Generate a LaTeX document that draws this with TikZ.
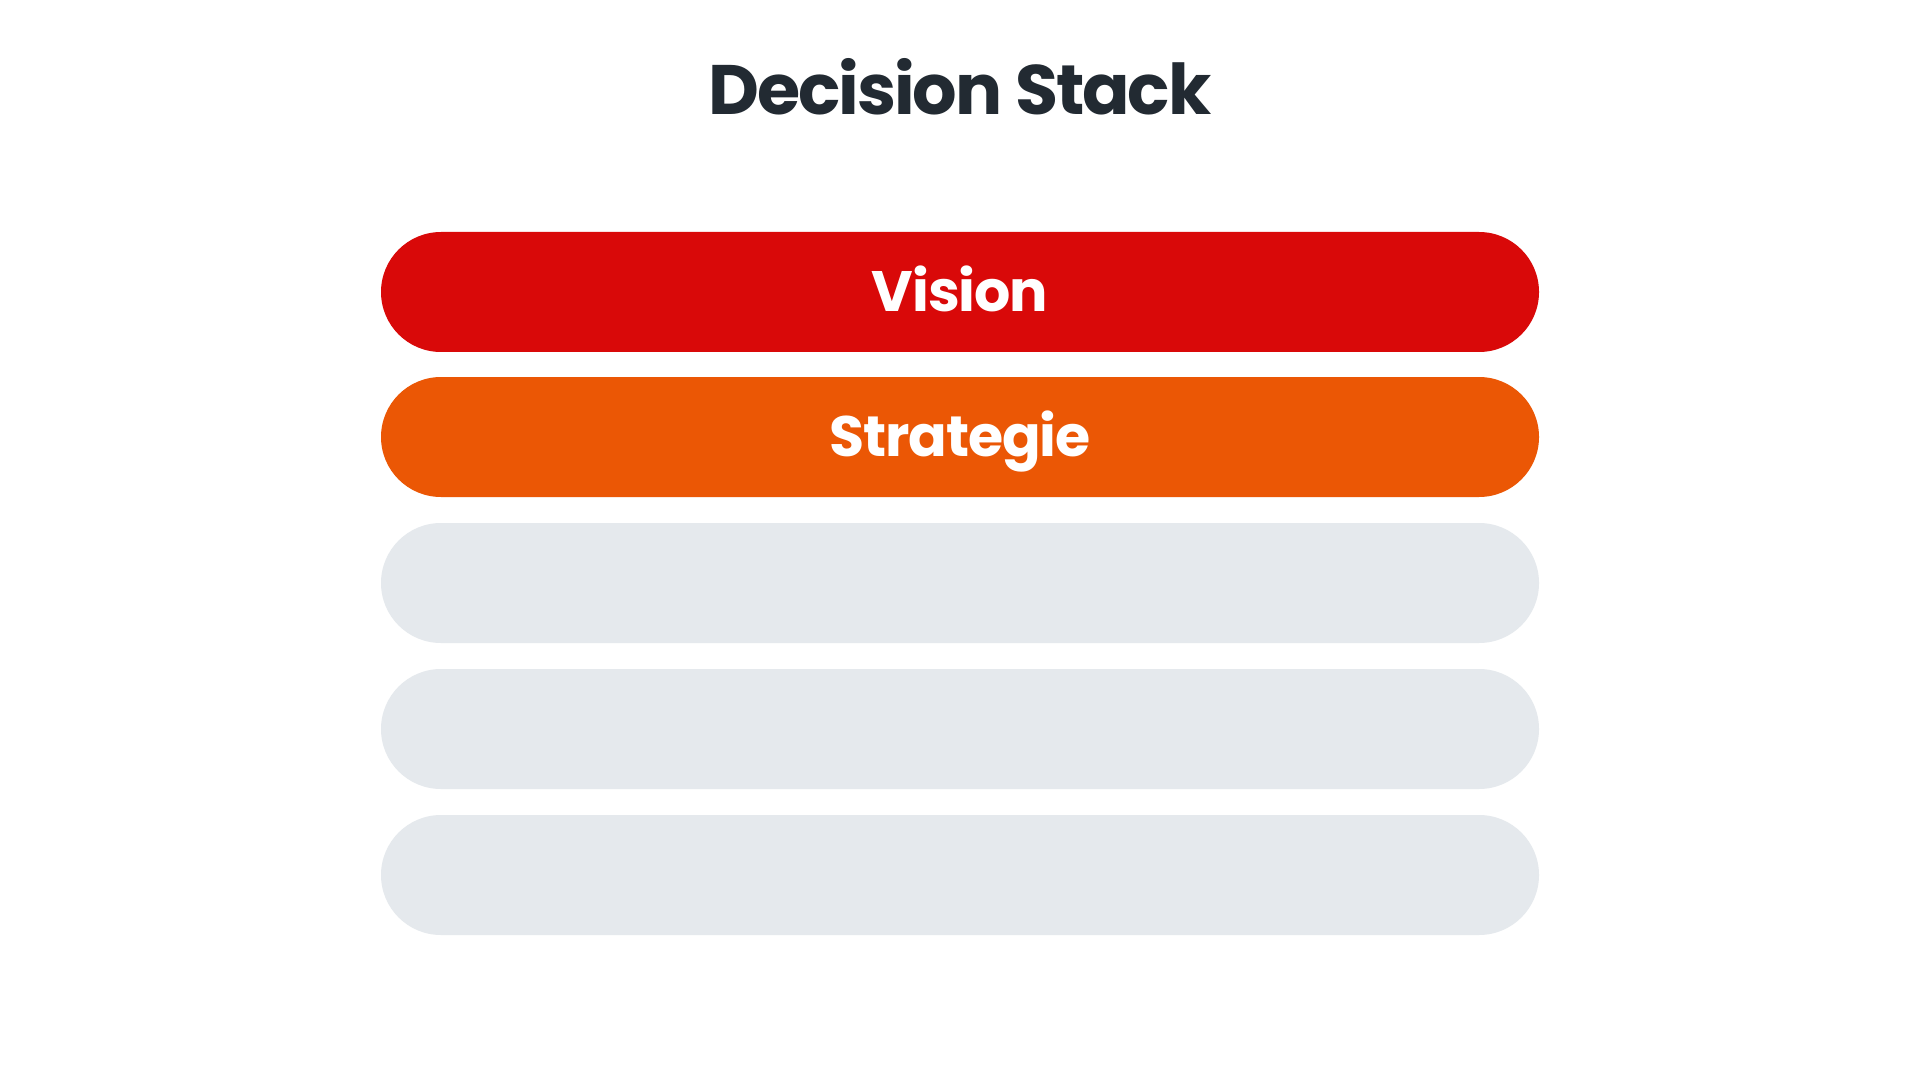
\documentclass[tikz,border=0pt]{standalone}
\usepackage{fontspec}
\setmainfont{Poppins}
\newfontfamily\titlefont{Poppins}[LetterSpace=-3]
\newfontfamily\barfont{Poppins}[LetterSpace=-2]
\usetikzlibrary{positioning}

\definecolor{titleink}{HTML}{222A32}
\definecolor{visionred}{HTML}{D90909}
\definecolor{strategyorange}{HTML}{EB5705}
\definecolor{emptygray}{HTML}{E5E9ED}

\tikzset{
  stackbar/.style={rectangle, rounded corners=30pt, inner sep=0pt,
    minimum width=579pt, minimum height=60pt,
    text=white, font=\barfont\fontsize{28.5}{34}\selectfont\bfseries,
    text height=19.9pt, text depth=0pt},
  stacktitle/.style={inner sep=0pt, anchor=base, text=titleink,
    font=\titlefont\fontsize{35}{42}\selectfont\bfseries}
}

\begin{document}
\begin{tikzpicture}[x=0.5pt,y=0.5pt,yscale=-1,xscale=1]
            % page 1920 x 1080
            \useasboundingbox [fill=white] (0,0) rectangle (1920,1080);

            % Title
            \node [stacktitle] (title) at (960,115) {Decision Stack};

            % Stack layers
            \node [stackbar, fill=visionred] (vision) at (960,292) {Vision};
            \node [stackbar, fill=strategyorange] (strategie) at (960,437) {Strategie};
            \node [stackbar, fill=emptygray] (layerc) at (960,583) {};
            \node [stackbar, fill=emptygray] (layerd) at (960,729) {};
            \node [stackbar, fill=emptygray] (layere) at (960,875) {};

\end{tikzpicture}
\end{document}
